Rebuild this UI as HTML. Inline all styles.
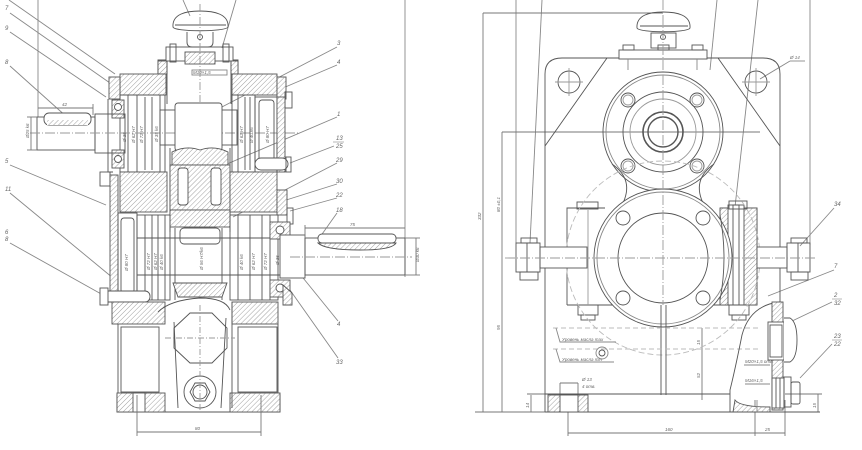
<!DOCTYPE html>
<html><head><meta charset="utf-8"><style>
html,body{margin:0;padding:0;background:#fff}
svg{display:block}
text{font-family:"Liberation Sans","Noto Sans CJK SC",sans-serif;font-style:italic;fill:#666;stroke:none}
</style></head><body>
<svg width="862" height="450" viewBox="0 0 862 450" xmlns="http://www.w3.org/2000/svg">
<defs>
<pattern id="h" width="3.5" height="3.5" patternUnits="userSpaceOnUse" patternTransform="rotate(45)"><rect width="3.5" height="3.5" fill="#fff"/><line x1="0" y1="0" x2="0" y2="3.5" stroke="#959595" stroke-width="0.9"/></pattern>
</defs>
<rect width="862" height="450" fill="#fff"/>

<!-- ================= LEFT VIEW ================= -->
<g fill="none" stroke="#555" stroke-width="0.9">
<line x1="9" y1="0" x2="115" y2="74" stroke="#888"/>
<line x1="10" y1="13" x2="110" y2="83" stroke="#888"/>
<line x1="10" y1="32" x2="106" y2="97" stroke="#888"/>
<line x1="10" y1="66" x2="68" y2="118" stroke="#888"/>
<line x1="10" y1="165" x2="106" y2="205" stroke="#888"/>
<line x1="10" y1="193" x2="113" y2="278" stroke="#888"/>
<line x1="10" y1="243" x2="103" y2="295" stroke="#888"/>
<line x1="38" y1="0" x2="38" y2="117" stroke="#888"/>
<line x1="183" y1="0" x2="190" y2="16" stroke="#888"/>
<line x1="236" y1="0" x2="222" y2="48" stroke="#888"/>
<line x1="337" y1="47" x2="220" y2="108" stroke="#888"/>
<line x1="337" y1="65" x2="283" y2="88" stroke="#888"/>
<line x1="337" y1="117" x2="213" y2="170" stroke="#888"/>
<line x1="334" y1="146" x2="290" y2="163" stroke="#888"/>
<line x1="337" y1="163" x2="233" y2="217" stroke="#888"/>
<line x1="337" y1="184" x2="283" y2="201" stroke="#888"/>
<line x1="337" y1="198" x2="290" y2="211" stroke="#888"/>
<line x1="337" y1="213" x2="320" y2="237" stroke="#888"/>
<line x1="338" y1="321" x2="295" y2="268" stroke="#888"/>
<line x1="338" y1="358" x2="290" y2="290" stroke="#888"/>
<line x1="405" y1="0" x2="405" y2="277" stroke="#888"/>

<path d="M173,27 C172,14 186,11 200,11 C214,11 229,14 228,27 C226,32 174,32 173,27Z"/>
<line x1="175" y1="25" x2="226" y2="25"/>
<path d="M187,32 V42 Q187,47 192,47 H208 Q213,47 213,42 V32"/>
<circle cx="200" cy="37" r="2.5"/>
<rect x="166" y="47" width="67" height="14"/>
<rect x="185" y="52" width="30" height="12" fill="url(#h)"/>
<rect x="170" y="44" width="6" height="18"/>
<rect x="223" y="44" width="6" height="18"/>
<line x1="200" y1="4" x2="200" y2="102" stroke="#999" stroke-dasharray="8,2,1,2"/>
<rect x="192" y="70" width="35" height="5" stroke="#888"/>
<path d="M158,74 V60 H166 M233,60 H238 V74"/>
<rect x="158" y="61" width="9" height="13" fill="url(#h)"/>
<rect x="231" y="61" width="7" height="13" fill="url(#h)"/>
<rect x="120" y="74" width="46" height="21" fill="url(#h)"/>
<rect x="232" y="74" width="45" height="21" fill="url(#h)"/>
<line x1="167" y1="61" x2="167" y2="104"/>
<line x1="231" y1="61" x2="231" y2="104"/>
<rect x="109" y="77" width="11" height="22" fill="url(#h)"/>
<rect x="277" y="77" width="9" height="22" fill="url(#h)"/>
<rect x="285" y="92" width="7" height="16"/>
<rect x="120" y="95" width="45" height="77"/>
<line x1="128" y1="95" x2="128" y2="172"/><line x1="137" y1="95" x2="137" y2="172"/>
<line x1="145" y1="97" x2="145" y2="170"/><line x1="152" y1="97" x2="152" y2="170"/>
<line x1="160" y1="95" x2="160" y2="172"/>
<rect x="112" y="100" width="12" height="18" fill="url(#h)"/>
<circle cx="118" cy="107" r="3.5" fill="#fff"/>
<rect x="112" y="150" width="12" height="18" fill="url(#h)"/>
<circle cx="118" cy="159" r="3.5" fill="#fff"/>
<path d="M108,99 V172 H113"/>
<rect x="37" y="117" width="58" height="33"/>
<rect x="95" y="114" width="30" height="39"/>
<rect x="44" y="113" width="47" height="12" rx="5" fill="#fff"/>
<rect x="47" y="120" width="41" height="5" fill="url(#h)" stroke="none"/>
<line x1="30" y1="133" x2="300" y2="133" stroke="#999" stroke-dasharray="10,2,1,2"/>
<rect x="160" y="110" width="77" height="35"/>
<rect x="175" y="103" width="47" height="48" rx="3" fill="#fff"/>
<rect x="232" y="95" width="23" height="77"/>
<line x1="238" y1="95" x2="238" y2="172"/><line x1="245" y1="97" x2="245" y2="170"/><line x1="250" y1="97" x2="250" y2="170"/>
<rect x="255" y="97" width="22" height="75"/>
<rect x="259" y="100" width="15" height="68" rx="3"/>
<rect x="277" y="97" width="8" height="75" fill="url(#h)"/>
<rect x="255" y="158" width="33" height="12" rx="6" fill="#fff"/>
<rect x="286" y="157" width="5" height="15"/>
<line x1="170" y1="148" x2="170" y2="232"/><line x1="230" y1="148" x2="230" y2="232"/>
<path d="M172,152 Q186,145 200,150 Q214,145 228,152 V165 H172Z" fill="url(#h)"/>
<rect x="170" y="165" width="60" height="45" fill="url(#h)"/>
<rect x="178" y="168" width="10" height="37" rx="3" fill="#fff"/>
<rect x="211" y="168" width="10" height="37" rx="3" fill="#fff"/>
<rect x="170" y="210" width="60" height="17" fill="url(#h)"/>
<rect x="180" y="228" width="40" height="16" rx="4" fill="#fff"/>
<rect x="120" y="172" width="47" height="40" fill="url(#h)"/>
<rect x="230" y="172" width="47" height="40" fill="url(#h)"/>
<rect x="100" y="172" width="10" height="14"/>
<rect x="110" y="175" width="8" height="125" fill="url(#h)"/>
<rect x="277" y="190" width="10" height="25" fill="url(#h)"/>
<rect x="287" y="208" width="6" height="16"/>
<rect x="118" y="213" width="19" height="87"/>
<rect x="121" y="218" width="13" height="75" rx="3"/>
<rect x="137" y="215" width="33" height="85"/>
<line x1="145" y1="215" x2="145" y2="300"/><line x1="152" y1="215" x2="152" y2="300"/><line x1="158" y1="215" x2="158" y2="300"/><line x1="165" y1="215" x2="165" y2="300"/>
<line x1="137" y1="238" x2="305" y2="238"/><line x1="137" y1="275" x2="305" y2="275"/>
<line x1="175" y1="228" x2="175" y2="300"/><line x1="222" y1="228" x2="222" y2="300"/>
<rect x="230" y="215" width="48" height="85"/>
<line x1="238" y1="215" x2="238" y2="300"/><line x1="250" y1="215" x2="250" y2="300"/><line x1="262" y1="215" x2="262" y2="300"/><line x1="270" y1="215" x2="270" y2="300"/>
<rect x="270" y="222" width="20" height="17" fill="url(#h)"/><circle cx="280" cy="230" r="4" fill="#fff"/>
<rect x="270" y="280" width="20" height="17" fill="url(#h)"/><circle cx="280" cy="288" r="4" fill="#fff"/>
<rect x="280" y="235" width="25" height="43" fill="#fff"/>
<path d="M283,285 L292,293 V305 H283Z" fill="url(#h)"/>
<path d="M173,283 H227 L222,297 H178Z" fill="url(#h)"/>
<rect x="305" y="238" width="100" height="37"/>
<rect x="318" y="234" width="78" height="9" rx="4" fill="#fff"/>
<path d="M318,243 H396 Q392,250 360,250 Q325,250 318,243Z" fill="url(#h)"/>
<line x1="290" y1="257" x2="412" y2="257" stroke="#999" stroke-dasharray="10,2,1,2"/>
<rect x="103" y="291" width="47" height="11" rx="5" fill="#fff"/>
<rect x="100" y="288" width="8" height="17" fill="#fff"/>
<rect x="112" y="302" width="53" height="22" fill="url(#h)"/>
<rect x="232" y="302" width="46" height="22" fill="url(#h)"/>
<path d="M118,324 V395 H117 V412 H280 V395 H278 V324"/>
<rect x="117" y="393" width="48" height="19" fill="url(#h)"/>
<rect x="133" y="393" width="12" height="19" fill="#fff"/>
<rect x="230" y="393" width="50" height="19" fill="url(#h)"/>
<rect x="121" y="327" width="38" height="65"/>
<rect x="238" y="327" width="39" height="65"/>
<path d="M158,312 Q170,300 200,298 Q225,298 230,310"/>
<path d="M174,322 L178,408 M226,318 L221,408 M232,302 V408"/>
<polygon points="190,313 212,313 227,328 227,348 212,363 190,363 174,348 174,328"/>
<circle cx="200" cy="392" r="16"/>
<polygon points="190,392 195,383 205,383 210,392 205,401 195,401"/>
<circle cx="200" cy="392" r="7"/>
<line x1="200" y1="305" x2="200" y2="412" stroke="#999" stroke-dasharray="6,2,1,2"/>
<line x1="165" y1="338" x2="235" y2="338" stroke="#999" stroke-dasharray="6,2,1,2"/>
<line x1="137" y1="395" x2="137" y2="436" stroke="#777"/>
<line x1="261" y1="395" x2="261" y2="436" stroke="#777"/>
<line x1="137" y1="432" x2="261" y2="432" stroke="#777"/>
<line x1="38" y1="108" x2="93" y2="108" stroke="#777"/>
<line x1="93" y1="104" x2="93" y2="115" stroke="#777"/>
<line x1="27" y1="117" x2="37" y2="117" stroke="#777"/>
<line x1="27" y1="150" x2="37" y2="150" stroke="#777"/>
<line x1="31" y1="117" x2="31" y2="150" stroke="#777"/>
<line x1="305" y1="228" x2="405" y2="228" stroke="#777"/>
<line x1="305" y1="225" x2="305" y2="238" stroke="#777"/>
<line x1="405" y1="238" x2="420" y2="238" stroke="#777"/>
<line x1="405" y1="275" x2="420" y2="275" stroke="#777"/>
<line x1="416" y1="238" x2="416" y2="275" stroke="#777"/>
</g>
<g font-size="6">
<text x="5" y="10">7</text><text x="5" y="30">9</text><text x="5" y="64">8</text>
<text x="5" y="163">5</text><text x="5" y="191">11</text><text x="5" y="234">6</text><text x="5" y="241">8</text>
<text x="337" y="45">3</text><text x="337" y="64">4</text><text x="337" y="116">1</text>
<text x="336" y="140">13</text><text x="336" y="148">25</text><text x="336" y="162">29</text>
<text x="336" y="183">30</text><text x="336" y="197">22</text><text x="336" y="212">18</text>
<text x="337" y="326">4</text><text x="336" y="364">33</text>
</g>
<g font-size="4.5">
<text x="62" y="106">42</text><text x="195" y="430">80</text><text x="350" y="226">75</text>
<text x="193" y="74">M10×1,5</text>
<text transform="translate(29,138) rotate(-90)">Ø25 k6</text>
<text transform="translate(419,262) rotate(-90)">Ø30 k6</text>
<text transform="translate(126,142) rotate(-90)">Ø 35</text>
<text transform="translate(135,143) rotate(-90)">Ø 62 H7</text>
<text transform="translate(143,143) rotate(-90)">Ø 72 H7</text>
<text transform="translate(158,142) rotate(-90)">Ø 35 k6</text>
<text transform="translate(243,143) rotate(-90)">Ø 62 H7</text>
<text transform="translate(253,143) rotate(-90)">Ø 40 k6</text>
<text transform="translate(269,143) rotate(-90)">Ø 80 H7</text>
<text transform="translate(128,271) rotate(-90)">Ø 80 H7</text>
<text transform="translate(150,270) rotate(-90)">Ø 72 H7</text>
<text transform="translate(157,270) rotate(-90)">Ø 62 H7</text>
<text transform="translate(163,270) rotate(-90)">Ø 40 k6</text>
<text transform="translate(203,270) rotate(-90)">Ø 56 H7/k6</text>
<text transform="translate(243,270) rotate(-90)">Ø 40 k6</text>
<text transform="translate(255,270) rotate(-90)">Ø 62 H7</text>
<text transform="translate(267,270) rotate(-90)">Ø 72 H7</text>
<text transform="translate(279,265) rotate(-90)">Ø 35</text>
</g>

<!-- ================= RIGHT VIEW ================= -->
<g fill="none" stroke="#555" stroke-width="0.9">
<line x1="516" y1="0" x2="516" y2="243" stroke="#888"/>
<line x1="542" y1="0" x2="530" y2="243" stroke="#888"/>
<line x1="717" y1="0" x2="710" y2="70" stroke="#888"/>
<line x1="758" y1="0" x2="735" y2="207" stroke="#888"/>
<line x1="810" y1="0" x2="810" y2="245" stroke="#888"/>
<line x1="834" y1="208" x2="800" y2="246" stroke="#888"/>
<line x1="834" y1="270" x2="768" y2="296" stroke="#888"/>
<line x1="832" y1="302" x2="790" y2="322" stroke="#888"/>
<line x1="832" y1="344" x2="800" y2="378" stroke="#888"/>
<line x1="790" y1="61" x2="760" y2="79" stroke="#888"/>
<line x1="790" y1="61" x2="805" y2="61" stroke="#888"/>
<line x1="483" y1="13" x2="663" y2="13" stroke="#777"/>
<line x1="483" y1="13" x2="483" y2="412" stroke="#777"/>
<line x1="502" y1="132" x2="760" y2="132" stroke="#777"/>
<line x1="502" y1="132" x2="502" y2="412" stroke="#777"/>
<line x1="475" y1="412" x2="545" y2="412" stroke="#777"/>
<line x1="531" y1="395" x2="531" y2="412" stroke="#777"/>
<line x1="527" y1="394" x2="548" y2="394" stroke="#777"/>
<line x1="568" y1="412" x2="568" y2="436" stroke="#777"/>
<line x1="568" y1="433" x2="785" y2="433" stroke="#777"/>
<line x1="755" y1="400" x2="755" y2="436" stroke="#777"/>
<line x1="785" y1="400" x2="785" y2="436" stroke="#777"/>
<line x1="702" y1="328" x2="702" y2="400" stroke="#777"/>
<line x1="818" y1="394" x2="818" y2="412" stroke="#777"/>
<line x1="785" y1="394" x2="822" y2="394" stroke="#777"/>
<line x1="560" y1="383" x2="578" y2="383" stroke="#777"/>
<line x1="560" y1="383" x2="560" y2="395" stroke="#777"/>
<line x1="578" y1="383" x2="578" y2="395" stroke="#777"/>
<path d="M637,28 C636,15 650,12 663,12 C677,12 691,15 690,28 C688,33 639,33 637,28Z"/>
<line x1="640" y1="26" x2="688" y2="26"/>
<rect x="651" y="33" width="25" height="15"/>
<circle cx="663" cy="37" r="2.5"/>
<rect x="619" y="50" width="88" height="9"/>
<rect x="623" y="45" width="11" height="5"/><rect x="658" y="45" width="11" height="5"/><rect x="692" y="45" width="11" height="5"/>
<line x1="628" y1="59" x2="628" y2="70" stroke="#888"/><line x1="697" y1="59" x2="697" y2="70" stroke="#888"/>
<path d="M545,412 V74 Q545,58 562,58 H619 M707,58 H763 Q780,58 780,74 V302"/>
<line x1="607" y1="58" x2="545" y2="146"/>
<line x1="718" y1="58" x2="780" y2="146"/>
<circle cx="569" cy="82" r="11"/><circle cx="756" cy="82" r="11"/>
<line x1="555" y1="82" x2="583" y2="82" stroke="#999"/><line x1="569" y1="68" x2="569" y2="96" stroke="#999"/>
<line x1="742" y1="82" x2="770" y2="82" stroke="#999"/><line x1="756" y1="68" x2="756" y2="96" stroke="#999"/>
<circle cx="663" cy="132" r="60"/>
<circle cx="663" cy="132" r="57" stroke="#888"/>
<circle cx="663" cy="132" r="40"/>
<circle cx="663" cy="132" r="33" stroke="#999"/>
<circle cx="663" cy="132" r="20" stroke-width="1.6"/>
<circle cx="663" cy="132" r="15" stroke-width="1.4"/>
<circle cx="628" cy="100" r="7"/><circle cx="697" cy="100" r="7"/>
<circle cx="628" cy="166" r="7"/><circle cx="697" cy="166" r="7"/>
<circle cx="628" cy="100" r="5" stroke="#999"/><circle cx="697" cy="100" r="5" stroke="#999"/>
<circle cx="628" cy="166" r="5" stroke="#999"/><circle cx="697" cy="166" r="5" stroke="#999"/>
<path d="M612,164 Q635,180 622,205"/>
<path d="M714,164 Q691,180 704,205"/>
<path d="M567,305 V208 H605 M720,208 H757 V305 H567"/>
<rect x="720" y="208" width="37" height="97" fill="url(#h)"/>
<rect x="728" y="205" width="16" height="100" fill="#fff"/>
<rect x="733" y="205" width="6" height="100"/>
<rect x="577" y="202" width="21" height="7"/><rect x="729" y="201" width="18" height="8"/>
<rect x="578" y="305" width="20" height="10"/><rect x="581" y="315" width="14" height="5"/>
<rect x="729" y="305" width="20" height="10"/><rect x="732" y="315" width="14" height="5"/>
<line x1="588" y1="210" x2="588" y2="305" stroke="#999"/>
<circle cx="663" cy="258" r="97" stroke="#bbb" stroke-dasharray="6,3"/>
<circle cx="663" cy="258" r="69" fill="#fff"/>
<circle cx="663" cy="258" r="66" stroke="#888"/>
<circle cx="663" cy="258" r="45"/>
<circle cx="623" cy="218" r="7"/><circle cx="703" cy="218" r="7"/>
<circle cx="623" cy="298" r="7"/><circle cx="703" cy="298" r="7"/>
<path d="M720,215 Q728,258 720,300" />
<rect x="540" y="247" width="47" height="21" fill="#fff"/>
<rect x="757" y="247" width="30" height="21" fill="#fff"/>
<rect x="516" y="243" width="24" height="29"/>
<rect x="520" y="272" width="18" height="8"/>
<rect x="521" y="238" width="16" height="5"/>
<rect x="787" y="243" width="23" height="29"/>
<rect x="791" y="272" width="17" height="8"/>
<rect x="791" y="238" width="16" height="5"/>
<line x1="527" y1="243" x2="527" y2="272"/><line x1="798" y1="243" x2="798" y2="272"/>
<line x1="663" y1="0" x2="663" y2="305" stroke="#999" stroke-dasharray="10,2,1,2"/>
<line x1="505" y1="258" x2="815" y2="258" stroke="#999" stroke-dasharray="10,2,1,2"/>
<line x1="661" y1="305" x2="661" y2="395"/><line x1="666" y1="305" x2="666" y2="395"/>
<line x1="553" y1="328" x2="760" y2="328" stroke="#bbb" stroke-dasharray="5,3"/>
<line x1="553" y1="349" x2="760" y2="349" stroke="#bbb" stroke-dasharray="5,3"/>
<path d="M556,328 L560,342 H616 M556,349 L560,362 H614" stroke="#888"/>
<circle cx="602" cy="353" r="3"/><circle cx="602" cy="353" r="6" stroke="#888"/>
<line x1="545" y1="394" x2="730" y2="394"/>
<line x1="545" y1="412" x2="820" y2="412"/>
<rect x="548" y="395" width="40" height="17" fill="url(#h)"/>
<rect x="560" y="395" width="18" height="17" fill="#fff"/>
<path d="M780,302 Q750,305 742,335 Q735,370 730,390 V412"/>
<rect x="772" y="302" width="11" height="108" fill="url(#h)"/>
<path d="M735,400 Q740,407 770,407 V412 H733Z" fill="url(#h)"/>
<rect x="768" y="322" width="16" height="38" fill="#fff"/>
<rect x="770" y="325" width="12" height="32"/>
<path d="M784,318 H790 Q797,322 797,340 Q797,358 790,362 H784" fill="#fff"/>
<rect x="772" y="378" width="12" height="30" fill="#fff"/>
<line x1="776" y1="378" x2="776" y2="408"/><line x1="780" y1="378" x2="780" y2="408"/>
<rect x="784" y="377" width="7" height="30"/>
<rect x="791" y="382" width="9" height="22" rx="2"/>
<line x1="757" y1="400" x2="757" y2="412" stroke="#888"/>
<line x1="744" y1="365" x2="770" y2="365" stroke="#888"/><line x1="745" y1="384" x2="770" y2="384" stroke="#888"/>
</g>
<g font-size="6">
<text x="834" y="206">34</text><text x="834" y="268">7</text>
<text x="834" y="297">2</text><text x="834" y="305">32</text>
<text x="834" y="338">23</text><text x="834" y="346">22</text>
<line x1="832" y1="299" x2="842" y2="299" stroke="#888" stroke-width="0.6"/>
<line x1="832" y1="340" x2="842" y2="340" stroke="#888" stroke-width="0.6"/>
<line x1="333" y1="142" x2="344" y2="142" stroke="#888" stroke-width="0.6"/>
</g>
<g font-size="4.5">
<text x="562" y="341">Уровень масла max</text>
<text x="562" y="361">Уровень масла min</text>
<text x="790" y="59">Ø 14</text>
<text x="582" y="381">Ø 13</text><text x="582" y="388">4 отв.</text>
<text x="665" y="431">160</text><text x="765" y="431">25</text>
<text x="745" y="363">M20×1,5 отв.</text><text x="745" y="382">M16×1,5</text>
<text transform="translate(481,220) rotate(-90)">332</text>
<text transform="translate(500,212) rotate(-90)">80 ±0,1</text>
<text transform="translate(500,330) rotate(-90)">95</text>
<text transform="translate(700,345) rotate(-90)">15</text>
<text transform="translate(700,378) rotate(-90)">52</text>
<text transform="translate(816,408) rotate(-90)">15</text>
<text transform="translate(529,408) rotate(-90)">14</text>
</g>
</svg>
</body></html>
